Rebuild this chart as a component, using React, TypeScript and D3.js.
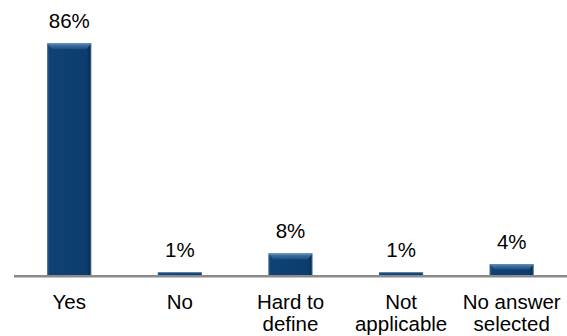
import React, { useEffect, useRef } from "react";
import * as d3 from "d3";

const categories: string[][] = [
  ["Yes"],
  ["No"],
  ["Hard to", "define"],
  ["Not", "applicable"],
  ["No answer", "selected"],
];
const values: number[] = [86, 1, 8, 1, 4];
const valueLabels: string[] = ["86%", "1%", "8%", "1%", "4%"];

const W = 567;
const H = 336;
const FONT = "'Liberation Sans', Arial, sans-serif";

export default function App() {
  const ref = useRef<SVGSVGElement | null>(null);

  useEffect(() => {
    document.body.style.margin = "0";
    const svg = d3.select(ref.current);
    svg.selectAll("*").remove();

    const baseY = 275;
    const x = d3
      .scaleBand<number>()
      .domain(values.map((_, i) => i))
      .range([14, W])
      .paddingInner(0.6)
      .paddingOuter(0.3);
    const y = d3.scaleLinear().domain([0, 100]).range([baseY, baseY - 269.4]);

    const defs = svg.append("defs");
    const side = defs
      .append("linearGradient")
      .attr("id", "barSide")
      .attr("x1", 0)
      .attr("x2", 1)
      .attr("y1", 0)
      .attr("y2", 0);
    side.append("stop").attr("offset", "0").attr("stop-color", "#2b5c8c");
    side.append("stop").attr("offset", "0.06").attr("stop-color", "#0f4274");
    side.append("stop").attr("offset", "0.9").attr("stop-color", "#0c3d6d");
    side.append("stop").attr("offset", "0.96").attr("stop-color", "#082f57");
    side.append("stop").attr("offset", "1").attr("stop-color", "#5a7fa3");

    const top = defs
      .append("linearGradient")
      .attr("id", "barTop")
      .attr("x1", 0)
      .attr("x2", 0)
      .attr("y1", 0)
      .attr("y2", 1);
    top.append("stop").attr("offset", "0").attr("stop-color", "#6f96bd");
    top.append("stop").attr("offset", "0.35").attr("stop-color", "#3b6e9f");
    top.append("stop").attr("offset", "1").attr("stop-color", "#1a4d80");

    const bw = x.bandwidth();

    const g = svg.append("g");
    values.forEach((v, i) => {
      const x0 = x(i)!;
      const yTop = y(v);
      const h = baseY - yTop;
      g.append("rect")
        .attr("x", x0)
        .attr("y", yTop)
        .attr("width", bw)
        .attr("height", h)
        .attr("fill", "url(#barSide)");
      const bevel = Math.min(6, h / 2);
      const inset = Math.min(5, bevel);
      g.append("path")
        .attr(
          "d",
          `M${x0},${yTop}L${x0 + bw},${yTop}L${x0 + bw - inset},${yTop + bevel}L${x0 + inset},${yTop + bevel}Z`
        )
        .attr("fill", "url(#barTop)");
    });

    // axis baseline
    svg
      .append("line")
      .attr("x1", 14)
      .attr("x2", W)
      .attr("y1", baseY + 1.3)
      .attr("y2", baseY + 1.3)
      .attr("stroke", "#8a8a8a")
      .attr("stroke-width", 2.6);

    // value labels
    svg
      .append("g")
      .selectAll("text")
      .data(values)
      .join("text")
      .attr("x", (_, i) => x(i)! + bw / 2)
      .attr("y", (d) => y(d) - 15)
      .attr("text-anchor", "middle")
      .attr("font-family", FONT)
      .attr("font-size", 20.5)
      .attr("fill", "#000")
      .text((_, i) => valueLabels[i]);

    // category labels
    const cat = svg
      .append("g")
      .selectAll("text")
      .data(categories)
      .join("text")
      .attr("x", (_, i) => x(i)! + bw / 2)
      .attr("y", 309)
      .attr("text-anchor", "middle")
      .attr("font-family", FONT)
      .attr("font-size", 20.5)
      .attr("fill", "#000");
    cat
      .selectAll("tspan")
      .data((d) => d)
      .join("tspan")
      .attr("x", function () {
        return (this.parentNode as SVGTextElement).getAttribute("x");
      })
      .attr("dy", (_, j) => (j === 0 ? 0 : 22))
      .text((d) => d);
  }, []);

  return <svg ref={ref} width={W} height={H} style={{ display: "block" }} />;
}
